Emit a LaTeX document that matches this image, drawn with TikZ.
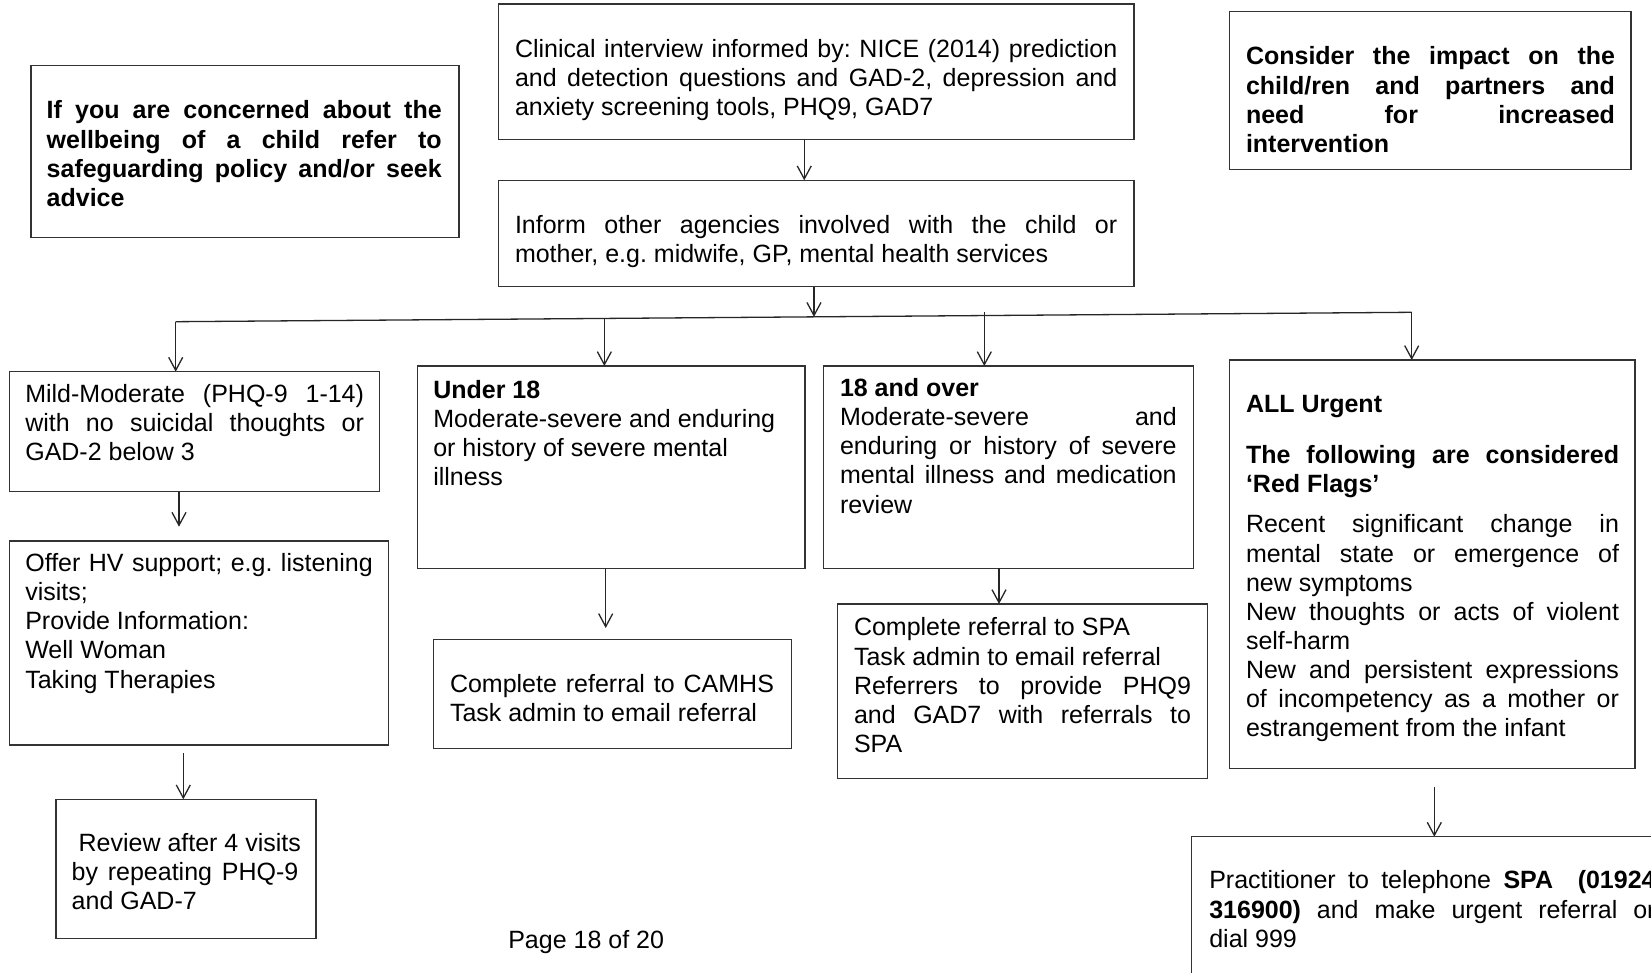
\documentclass[tikz,border=0pt]{standalone}
\usepackage{fontspec}
\setmainfont{Liberation Sans}
\usetikzlibrary{arrows.meta,calc}

% a block of text of a given width, top line first
\newcommand\tb[2]{\begin{minipage}[t]{#1}#2\end{minipage}}
% one justified line / one ragged line of such a block
\newcommand\jl[1]{\hbox to\hsize{\strut#1}}
\newcommand\rl[1]{\hbox{\strut#1}}

\tikzset{
  box/.style={draw=black!80, line width=1.5pt, anchor=north west,
    inner sep=0pt, outer sep=0pt},
  txt/.style={anchor=north west, inner sep=0pt, outer sep=0pt,
    font={\fontsize{25pt}{29.1pt}\selectfont}},
  link/.style={line width=1.3pt, draw=black!85},
  arr/.style={link, -{Straight Barb[length=13pt,width=14pt,line width=1.3pt]}},
}

\begin{document}
\frenchspacing
\begin{tikzpicture}[x=1pt,y=-1pt]
\useasboundingbox (0,0) rectangle (1651,973);
\fill[white] (0,0) rectangle (1651,973);
\clip (0,0) rectangle (1651,973);

% ---- boxes ----
\node[box, minimum width=428pt,   minimum height=172pt]   (A) at (31,65.7) {};
\node[box, minimum width=635.7pt, minimum height=135.3pt] (B) at (498.3,4) {};
\node[box, minimum width=401.7pt, minimum height=157.6pt] (C) at (1229.3,11.7) {};
\node[box, minimum width=635.7pt, minimum height=106.4pt] (D) at (498.3,180.3) {};
\node[box, minimum width=369.8pt, minimum height=120pt]   (E) at (9.5,371.7) {};
\node[box, minimum width=379.2pt, minimum height=204pt]   (I) at (9.5,541) {};
\node[box, minimum width=260pt,   minimum height=139pt]   (J) at (56,799.3) {};
\node[box, minimum width=387.7pt, minimum height=202.3pt] (F) at (417.3,366) {};
\node[box, minimum width=358.4pt, minimum height=109pt]   (K) at (433.3,639.3) {};
\node[box, minimum width=370pt,   minimum height=202.3pt] (G) at (823.3,366) {};
\node[box, minimum width=370pt,   minimum height=174.3pt] (L) at (837.3,604) {};
\node[box, minimum width=405.7pt, minimum height=408.3pt] (H) at (1229.3,360) {};
\node[box, minimum width=484pt,   minimum height=180pt]   (M) at (1191.7,836.7) {};

% ---- texts ----
\node[txt] (At) at (46.7,98.6) {\tb{395pt}{\bfseries
  \jl{If you are concerned about the}
  \jl{wellbeing of a child refer to}
  \jl{safeguarding policy and/or seek}
  \rl{advice}}};
\node[txt] (Bt) at (515,36.9) {\tb{602.3pt}{%
  \jl{Clinical interview informed by: NICE (2014) prediction}
  \jl{and detection questions and GAD-2, depression and}
  \rl{anxiety screening tools, PHQ9, GAD7}}};
\node[txt] (Ct) at (1246,44.6) {\tb{369pt}{\bfseries
  \jl{Consider the impact on the}
  \jl{child/ren and partners and}
  \jl{need for increased}
  \rl{intervention}}};
\node[txt] (Dt) at (515,212.9) {\tb{602.3pt}{%
  \jl{Inform other agencies involved with the child or}
  \rl{mother, e.g. midwife, GP, mental health services}}};
\node[txt] (Et) at (25.3,382.3) {\tb{338.7pt}{%
  \jl{Mild-Moderate (PHQ-9 1-14)}
  \jl{with no suicidal thoughts or}
  \rl{GAD-2 below 3}}};
\node[txt] (It) at (25.3,551.3) {\tb{347.4pt}{%
  \jl{Offer HV support; e.g. listening}
  \rl{visits;}
  \rl{Provide Information:}
  \rl{Well Woman}
  \rl{Taking Therapies}}};
\node[txt] (Jt) at (71.7,831.3) {\tb{226.6pt}{%
  \rl{\ Review after 4 visits}
  \jl{by repeating PHQ-9}
  \rl{and GAD-7}}};
\node[txt] (Ft) at (433.3,377.9) {\tb{340pt}{%
  \rl{\textbf{Under 18}}
  \rl{Moderate-severe and enduring}
  \rl{or history of severe mental}
  \rl{illness}}};
\node[txt] (Kt) at (450,672.3) {\tb{324pt}{%
  \jl{Complete referral to CAMHS}
  \rl{Task admin to email referral}}};
\node[txt] (Gt) at (840,376.3) {\tb{336.7pt}{%
  \rl{\textbf{18 and over}}
  \jl{Moderate-severe and}
  \jl{enduring or history of severe}
  \jl{mental illness and medication}
  \rl{review}}};
\node[txt] (Lt) at (854,615.6) {\tb{337pt}{%
  \rl{Complete referral to SPA}
  \rl{Task admin to email referral}
  \jl{Referrers to provide PHQ9}
  \jl{and GAD7 with referrals to}
  \rl{SPA}}};
\node[txt] (Ht) at (1246,392.3) {\tb{373pt}{%
  \rl{\textbf{ALL Urgent}}
  \vspace{21.5pt}
  \jl{\textbf{The following are considered}}
  \rl{\textbf{‘Red Flags’}}
  \vspace{11.5pt}
  \jl{Recent significant change in}
  \jl{mental state or emergence of}
  \rl{new symptoms}
  \jl{New thoughts or acts of violent}
  \rl{self-harm}
  \jl{New and persistent expressions}
  \jl{of incompetency as a mother or}
  \rl{estrangement from the infant}}};
\node[txt] (Mt) at (1209.3,868.6) {\tb{446.3pt}{%
  \jl{Practitioner to telephone \textbf{SPA\ \ (01924}}
  \jl{\textbf{316900)} and make urgent referral or}
  \rl{dial 999}}};
\node[txt, anchor=base west] (page) at (508.3,948.3) {Page 18 of 20};

% ---- connectors ----
\draw[arr] ([xshift=-11.9pt]B.south) -- ([xshift=-11.9pt]D.north);

\coordinate (bl) at (175.7,321.7);
\coordinate (br) at (1411.7,312.3);
\coordinate (jd) at ($(bl)!0.5164!(br)$);
\coordinate (jf) at ($(bl)!0.3468!(br)$);
\coordinate (jg) at ($(bl)!0.6542!(br)+(0,-3.3)$);
\draw[arr] (jd |- D.south) -- (jd);
\draw[link] (bl) -- (br);
\draw[arr] (bl) -- (bl |- E.north);
\draw[arr] (jf) -- (jf |- F.north);
\draw[arr] (jg) -- (jg |- G.north);
\draw[arr] (br) -- (br |- H.north);

\coordinate (cei) at (179,0);
\coordinate (cij) at (183.3,0);
\coordinate (cfk) at (605.7,0);
\coordinate (cgl) at (999,0);
\coordinate (chm) at (1434.3,0);
\draw[arr] (E.south -| cei) -- ($(I.north -| cei)+(0,-14.3)$);
\draw[arr] ($(I.south -| cij)+(0,8.3)$) -- (J.north -| cij);
\draw[arr] (F.south -| cfk) -- ($(K.north -| cfk)+(0,-11.3)$);
\draw[arr] (G.south -| cgl) -- (L.north -| cgl);
\draw[arr] ($(H.south -| chm)+(0,18.4)$) -- (M.north -| chm);
\end{tikzpicture}
\end{document}
